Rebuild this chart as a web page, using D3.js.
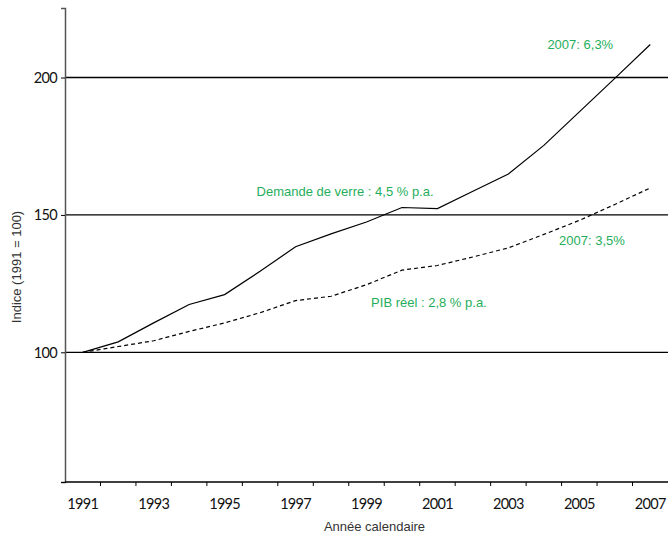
<!DOCTYPE html>
<html>
<head>
<meta charset="utf-8">
<script src="https://cdn.jsdelivr.net/npm/d3@7"></script>
<style>
  body { margin: 0; background: #fff; }
  svg { display: block; }
  .tick-label { font-family: "Lato", sans-serif; font-size: 14.5px; letter-spacing: -0.7px; fill: #111; }
  .title { font-family: "Liberation Sans", Arial, sans-serif; font-size: 13px; fill: #333; }
  .note { font-family: "Liberation Sans", Arial, sans-serif; font-size: 13px; fill: #1fae5b; }
</style>
</head>
<body>
<div id="chart"></div>
<script>
// Data
const years = [1991, 1992, 1993, 1994, 1995, 1996, 1997, 1998, 1999, 2000, 2001, 2002, 2003, 2004, 2005, 2006, 2007];
const verre = [100, 103.8, 110.7, 117.4, 121, 129.5, 138.4, 143.1, 147.4, 152.7, 152.3, 158.6, 164.9, 175.3, 187.5, 199.7, 212];
const pib = [100, 102.1, 104.2, 107.6, 110.7, 114.4, 118.8, 120.4, 124.6, 129.9, 131.6, 134.7, 138, 142.9, 148, 153.8, 159.8];
const yTicks = [100, 150, 200];
const xLabelYears = [1991, 1993, 1995, 1997, 1999, 2001, 2003, 2005, 2007];
const notes = [
  {text: "Demande de verre : 4,5 % p.a.", year: 1995.9, value: 157},
  {text: "PIB réel : 2,8 % p.a.", year: 1999.13, value: 116.5},
  {text: "2007: 6,3%", year: 2004.1, value: 210.5},
  {text: "2007: 3,5%", year: 2004.43, value: 139}
];

const width = 668, height = 537;
const mLeft = 65, mRight = 668, mTop = 8, mBottom = 482;

const svg = d3.select("#chart").append("svg")
  .attr("width", width)
  .attr("height", height);

// Category axis, Excel style: ticks between the years
const x = d3.scaleBand()
  .domain(years)
  .range([mLeft, mRight])
  .padding(0);
const xc = d => x(d) + x.bandwidth() / 2;
// continuous position for annotations
const xLin = d3.scaleLinear()
  .domain([years[0], years[years.length - 1]])
  .range([xc(years[0]), xc(years[years.length - 1])]);

const y = d3.scaleLinear()
  .domain([52.8, 225.3])
  .range([mBottom, mTop]);

// Horizontal grid lines
svg.selectAll(".grid")
  .data(yTicks)
  .enter().append("line")
  .attr("x1", mLeft)
  .attr("x2", mRight)
  .attr("y1", d => y(d))
  .attr("y2", d => y(d))
  .attr("stroke", "#000")
  .attr("stroke-width", 1.3);

// Y axis
const yAxis = svg.append("g")
  .attr("transform", `translate(${mLeft},0)`)
  .call(d3.axisLeft(y).tickValues([y.domain()[0]].concat(yTicks)).tickSize(4).tickFormat(d => yTicks.includes(d) ? d : ""));
yAxis.select(".domain").attr("stroke", "#555").attr("stroke-width", 1.5);
yAxis.selectAll(".tick line").attr("stroke", "#000");
yAxis.selectAll(".tick text")
  .attr("class", "tick-label")
  .attr("x", -8)
  .attr("dy", "0.35em");

// X axis line and ticks at band edges
svg.append("line")
  .attr("x1", mLeft).attr("x2", mRight)
  .attr("y1", mBottom).attr("y2", mBottom)
  .attr("stroke", "#000")
  .attr("stroke-width", 1.5);

const edges = years.map(d => x(d)).concat([x(years[years.length - 1]) + x.bandwidth()]);
svg.selectAll(".xtick")
  .data(edges.slice(1, -1))
  .enter().append("line")
  .attr("x1", d => d).attr("x2", d => d)
  .attr("y1", mBottom).attr("y2", mBottom + 4)
  .attr("stroke", "#000")
  .attr("stroke-width", 1);

svg.selectAll(".xlabel")
  .data(xLabelYears)
  .enter().append("text")
  .attr("class", "tick-label")
  .attr("x", d => xc(d))
  .attr("y", 509)
  .attr("text-anchor", "middle")
  .text(d => d);

// Axis titles
svg.append("text")
  .attr("class", "title")
  .attr("x", (mLeft + mRight) / 2 + 8)
  .attr("y", 531)
  .attr("text-anchor", "middle")
  .text("Année calendaire");

svg.append("text")
  .attr("class", "title")
  .attr("transform", `translate(21,${(mTop + mBottom) / 2 + 22}) rotate(-90)`)
  .attr("text-anchor", "middle")
  .text("Indice (1991 = 100)");

// Lines
const line = d3.line()
  .x((d, i) => xc(years[i]))
  .y(d => y(d));

svg.append("path")
  .datum(verre)
  .attr("fill", "none")
  .attr("stroke", "#000")
  .attr("stroke-width", 1.2)
  .attr("d", line);

svg.append("path")
  .datum(pib)
  .attr("fill", "none")
  .attr("stroke", "#000")
  .attr("stroke-width", 1.2)
  .attr("stroke-dasharray", "4,3")
  .attr("d", line);

// Green annotations
svg.selectAll(".note")
  .data(notes)
  .enter().append("text")
  .attr("class", "note")
  .attr("x", d => xLin(d.year))
  .attr("y", d => y(d.value))
  .text(d => d.text);
</script>
</body>
</html>
